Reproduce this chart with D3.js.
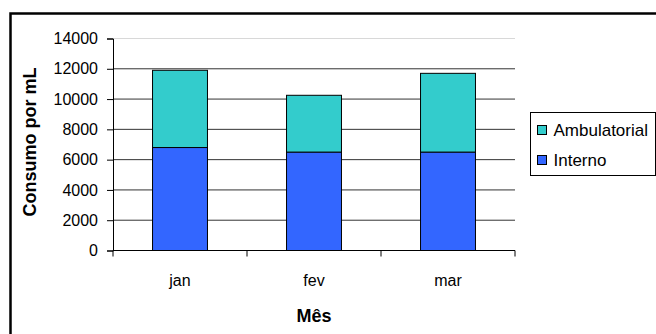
<!DOCTYPE html>
<html>
<head>
<meta charset="utf-8">
<script src="https://cdn.jsdelivr.net/npm/d3@7"></script>
<style>
  body { margin: 0; background: #fff; }
  svg text { font-family: "Liberation Sans", Arial, sans-serif; fill: #000; }
</style>
</head>
<body>
<div id="chart"></div>
<script>
// data
const months = ["jan", "fev", "mar"];
const interno = [6800, 6500, 6500];
const ambulatorial = [5100, 3750, 5200];
const seriesNames = ["Ambulatorial", "Interno"];
const seriesColors = ["#33CCCC", "#3366FF"];
const yTicks = [0, 2000, 4000, 6000, 8000, 10000, 12000, 14000];

const width = 656, height = 334;
const plot = {left: 113, right: 515, top: 38.5, bottom: 250.5};

const svg = d3.select("#chart").append("svg")
    .attr("width", width)
    .attr("height", height);

// outer frame (runs off the right and bottom of the picture)
svg.append("rect")
    .attr("x", 10.5).attr("y", 13.5)
    .attr("width", 800).attr("height", 500)
    .attr("fill", "none")
    .attr("stroke", "#000")
    .attr("stroke-width", 2.5);

const x = d3.scaleBand()
    .domain(months)
    .range([plot.left, plot.right])
    .paddingInner(0.59)
    .paddingOuter(0.295);

const y = d3.scaleLinear()
    .domain([0, 14000])
    .range([plot.bottom, plot.top]);

// gridlines
svg.append("g")
    .selectAll("line")
    .data(yTicks.filter(d => d > 0))
    .join("line")
    .attr("x1", plot.left).attr("x2", plot.right)
    .attr("y1", d => y(d)).attr("y2", d => y(d))
    .attr("stroke", d => d === 14000 ? "#d8d8d8" : "#333")
    .attr("stroke-width", 1);

// stacked bars
const rows = months.map((m, i) => ({month: m, Interno: interno[i], Ambulatorial: ambulatorial[i]}));
const stack = d3.stack().keys(["Interno", "Ambulatorial"])(rows);
const color = d3.scaleOrdinal().domain(seriesNames).range(seriesColors);

svg.append("g")
    .selectAll("g")
    .data(stack)
    .join("g")
    .attr("fill", d => color(d.key))
    .selectAll("rect")
    .data(d => d)
    .join("rect")
    .attr("x", d => x(d.data.month))
    .attr("y", d => y(d[1]))
    .attr("width", x.bandwidth())
    .attr("height", d => y(d[0]) - y(d[1]))
    .attr("stroke", "#000")
    .attr("stroke-width", 1);

// y axis
const yAxis = svg.append("g")
    .attr("transform", "translate(" + plot.left + ",0)")
    .call(d3.axisLeft(y).tickValues(yTicks).tickSize(6).tickPadding(9).tickFormat(d3.format("d")));
yAxis.select(".domain").attr("stroke", "#000");
yAxis.selectAll("text").style("font-size", "16px");

// x axis, ticks sit between the categories
const xAxis = svg.append("g")
    .attr("transform", "translate(0," + plot.bottom + ")");
xAxis.append("line")
    .attr("x1", plot.left).attr("x2", plot.right)
    .attr("stroke", "#000");
const bounds = months.map(m => x(m) - x.step() * x.paddingOuter()).concat([plot.right]);
xAxis.selectAll(".tk")
    .data(bounds)
    .join("line")
    .attr("class", "tk")
    .attr("x1", d => d).attr("x2", d => d)
    .attr("y1", 0).attr("y2", 6)
    .attr("stroke", "#000");
xAxis.selectAll(".lbl")
    .data(months)
    .join("text")
    .attr("class", "lbl")
    .attr("x", d => x(d) + x.bandwidth() / 2)
    .attr("y", 35)
    .attr("text-anchor", "middle")
    .style("font-size", "16px")
    .text(d => d);

// axis titles
svg.append("text")
    .attr("x", (plot.left + plot.right) / 2)
    .attr("y", 322)
    .attr("text-anchor", "middle")
    .style("font-size", "18px")
    .style("font-weight", "bold")
    .text("Mês");

svg.append("text")
    .attr("transform", "translate(36,142) rotate(-90)")
    .attr("text-anchor", "middle")
    .style("font-size", "18px")
    .style("font-weight", "bold")
    .text("Consumo por mL");

// legend
const legend = svg.append("g");
legend.append("rect")
    .attr("x", 530.5).attr("y", 112.5)
    .attr("width", 125).attr("height", 63)
    .attr("fill", "#fff")
    .attr("stroke", "#000");
const items = legend.selectAll(".item")
    .data(seriesNames)
    .join("g")
    .attr("class", "item")
    .attr("transform", (d, i) => "translate(537.5," + (125.5 + i * 30) + ")");
items.append("rect")
    .attr("width", 9).attr("height", 9)
    .attr("fill", d => color(d))
    .attr("stroke", "#000");
items.append("text")
    .attr("x", 16)
    .attr("y", 10)
    .style("font-size", "17px")
    .text(d => d);
</script>
</body>
</html>
